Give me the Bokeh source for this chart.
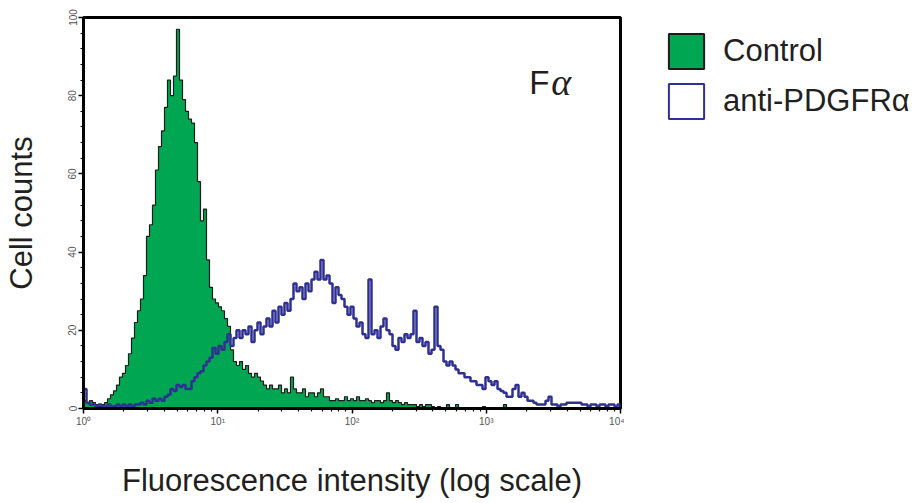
import numpy as np
from bokeh.plotting import figure
from bokeh.layouts import row
from bokeh.models import Range1d, Legend, LegendItem, Label, FixedTicker
from bokeh.embed import file_html
from bokeh.resources import INLINE

# ---- data (179 log-spaced channels over 4 decades) ----
n_decades = 4
control_counts = [
    2, 1.5, 2, 1.5, 1, 0.5, 1, 1.5, 2.5, 3.5,
    4.5, 6, 8, 9, 11, 14, 18, 22, 25, 28,
    34, 44, 47, 52, 61, 67, 71, 77, 84, 80,
    85, 97, 84, 79, 76, 74, 73, 68, 58, 48,
    51, 38, 31, 28, 27, 26, 25, 23, 21, 15,
    12, 11, 12, 10, 11, 9, 8, 9, 8, 7,
    6, 5, 6, 5, 5, 6, 4, 5, 4, 8,
    5, 4, 4, 5, 3, 4, 4, 3, 4, 5,
    3, 3, 2, 2, 2.5, 2, 2, 3, 2, 2.5,
    2, 3, 2, 2, 2.5, 2, 1.5, 2, 2, 1.5,
    2, 4, 2, 1.5, 2, 1.5, 1, 1.5, 1, 1,
    1, 0.5, 1, 0.5, 1, 1, 0.5, 0, 0.5, 0,
    0, 1, 0, 0, 1, 0, 0, 0, 0, 0,
    0, 0, 0, 0.5, 0, 0, 0, 0, 0, 0,
    1, 0, 0, 0, 0, 0, 0, 0, 0, 0,
    0, 0, 0, 0, 0, 0, 0, 0, 0, 0,
    0, 0, 0, 0, 0, 0, 0, 0, 0, 0,
    0, 0, 0, 0, 0, 0, 0, 0, 0,
]
pdgfra_counts = [
    5, 1.5, 1, 1, 0.5, 1, 0.5, 0.5, 1, 0.5,
    0.5, 1, 0.5, 1, 0.5, 1, 0.5, 1, 1, 1.5,
    1, 2, 1.5, 2.5, 2, 2.5, 2, 3, 3.5, 5,
    4.5, 6, 5.5, 6, 5, 5, 7, 8, 9, 9.5,
    11, 12, 13, 15.5, 14, 16, 15, 17, 19, 16,
    18, 20, 18, 20, 19, 21, 17, 20, 22, 19,
    21, 23, 21, 25, 22, 26, 24, 27, 25, 28,
    32, 30, 31, 28, 32, 30, 33, 35, 33, 38,
    33, 34, 32, 27, 31, 29, 28, 26, 24, 26,
    23, 21, 22, 19, 18, 33, 19, 20, 18, 21,
    23, 20, 19, 16, 15, 18, 17, 19, 18, 19,
    25, 17, 18, 16, 17, 14, 15, 26, 16, 15,
    12, 11, 12, 11, 10, 9, 9, 8, 8, 7,
    7, 6, 6, 5, 8, 7, 6, 7, 5, 4.5,
    4, 3, 3, 5, 6, 3, 4, 3, 2, 2,
    1.5, 1, 1, 1, 2, 3, 1, 1, 0.5, 1,
    1, 1.5, 1.5, 1.5, 1.5, 1.5, 1, 1, 0.5, 1,
    1, 0.5, 1, 1, 0.5, 1, 1, 0.5, 1,
]
x_tick_values = [1, 10, 100, 1000, 10000]
x_tick_labels = ["10⁰", "10¹", "10²", "10³", "10⁴"]
y_tick_values = [0, 20, 40, 60, 80, 100]
series_labels = ["Control", "anti-PDGFRα"]

GREEN = "#00A651"
GREEN_EDGE = "#1c1c1c"
BLUE = "#2E3192"

# ---- step outlines built from bin edges ----
n = len(control_counts)
edges = 10 ** (n_decades * np.arange(n + 1) / n)


def step_outline(counts):
    xs = [edges[0]]
    ys = [0]
    for i, c in enumerate(counts):
        xs += [edges[i], edges[i + 1]]
        ys += [c, c]
    xs.append(edges[-1])
    ys.append(0)
    return xs, ys


FONT = "Liberation Sans"
TXT = "#231f20"

p = figure(width=624, height=500, x_axis_type="log",
           x_range=Range1d(1, 10000), y_range=Range1d(0, 100),
           output_backend="svg", toolbar_location=None,
           min_border_left=83, min_border_right=4,
           min_border_top=17, min_border_bottom=89)
p.grid.visible = False
p.outline_line_color = "black"
p.outline_line_width = 3
p.background_fill_color = "white"
p.border_fill_color = "white"

gx, gy = step_outline(control_counts)
p.patch(gx, gy, fill_color=GREEN, line_color=GREEN_EDGE, line_width=1.2)
bx, by = step_outline(pdgfra_counts)
p.patch(bx, by, fill_alpha=0, line_color=BLUE, line_width=2.5)

# axes
p.xaxis.ticker = FixedTicker(ticks=x_tick_values,
                             minor_ticks=[m * 10 ** k for k in range(4) for m in range(2, 10)])
p.xaxis.major_label_overrides = {v: l for v, l in zip(x_tick_values, x_tick_labels)}
p.yaxis.ticker = FixedTicker(ticks=y_tick_values, minor_ticks=list(range(0, 101, 4)))
p.yaxis.major_label_orientation = "vertical"
for ax in (p.xaxis[0], p.yaxis[0]):
    ax.axis_line_width = 3
    ax.axis_line_color = "black"
    ax.major_tick_in = 0
    ax.major_tick_out = 5
    ax.minor_tick_in = 0
    ax.minor_tick_out = 3
    ax.major_tick_line_width = 1.5
    ax.minor_tick_line_width = 1.2
    ax.major_label_text_font = FONT
    ax.major_label_text_font_size = "10px"
    ax.major_label_text_color = "#555555"
    ax.major_label_standoff = 2
    ax.axis_label_text_font = FONT
    ax.axis_label_text_font_size = "31px"
    ax.axis_label_text_font_style = "normal"
    ax.axis_label_text_color = TXT

p.xaxis.axis_label = "Fluorescence intensity (log scale)"
p.xaxis.axis_label_standoff = 33
p.yaxis.axis_label = "Cell counts"
p.yaxis.axis_label_standoff = 27

# panel tag
p.add_layout(Label(x=10 ** 3.32, y=83.5, text="F", text_font=FONT,
                   text_font_size="33px", text_color=TXT, text_baseline="alphabetic"))
p.add_layout(Label(x=10 ** 3.485, y=83.5, text="α", text_font="Liberation Serif",
                   text_font_style="italic", text_font_size="38px", text_color=TXT,
                   text_baseline="alphabetic"))

# ---- legend panel to the right of the plot (same series, drawn out of view;
#      only their legend swatches show) ----
q = figure(width=296, height=500, x_range=Range1d(-3, -2), y_range=Range1d(-3, -2),
           output_backend="svg", toolbar_location=None,
           x_axis_location=None, y_axis_location=None,
           min_border_left=28, min_border_right=0, min_border_top=0, min_border_bottom=0)
q.grid.visible = False
q.outline_line_alpha = 0
q.border_fill_color = "white"
q.background_fill_color = "white"
lg_green = q.patch(gx, gy, fill_color=GREEN, line_color=GREEN_EDGE, line_width=2)
lg_blue = q.patch(bx, by, fill_alpha=0, line_color=BLUE, line_width=2)

legend = Legend(items=[LegendItem(label=series_labels[0], renderers=[lg_green]),
                       LegendItem(label=series_labels[1], renderers=[lg_blue])],
                location="top_left", orientation="vertical",
                glyph_width=44, glyph_height=44, spacing=6, padding=0, margin=12,
                label_standoff=15, label_text_font=FONT, label_text_font_size="31px",
                label_text_color=TXT, border_line_alpha=0, background_fill_alpha=0)
q.add_layout(legend)

open("out.html", "w").write(file_html(row(p, q), INLINE))
